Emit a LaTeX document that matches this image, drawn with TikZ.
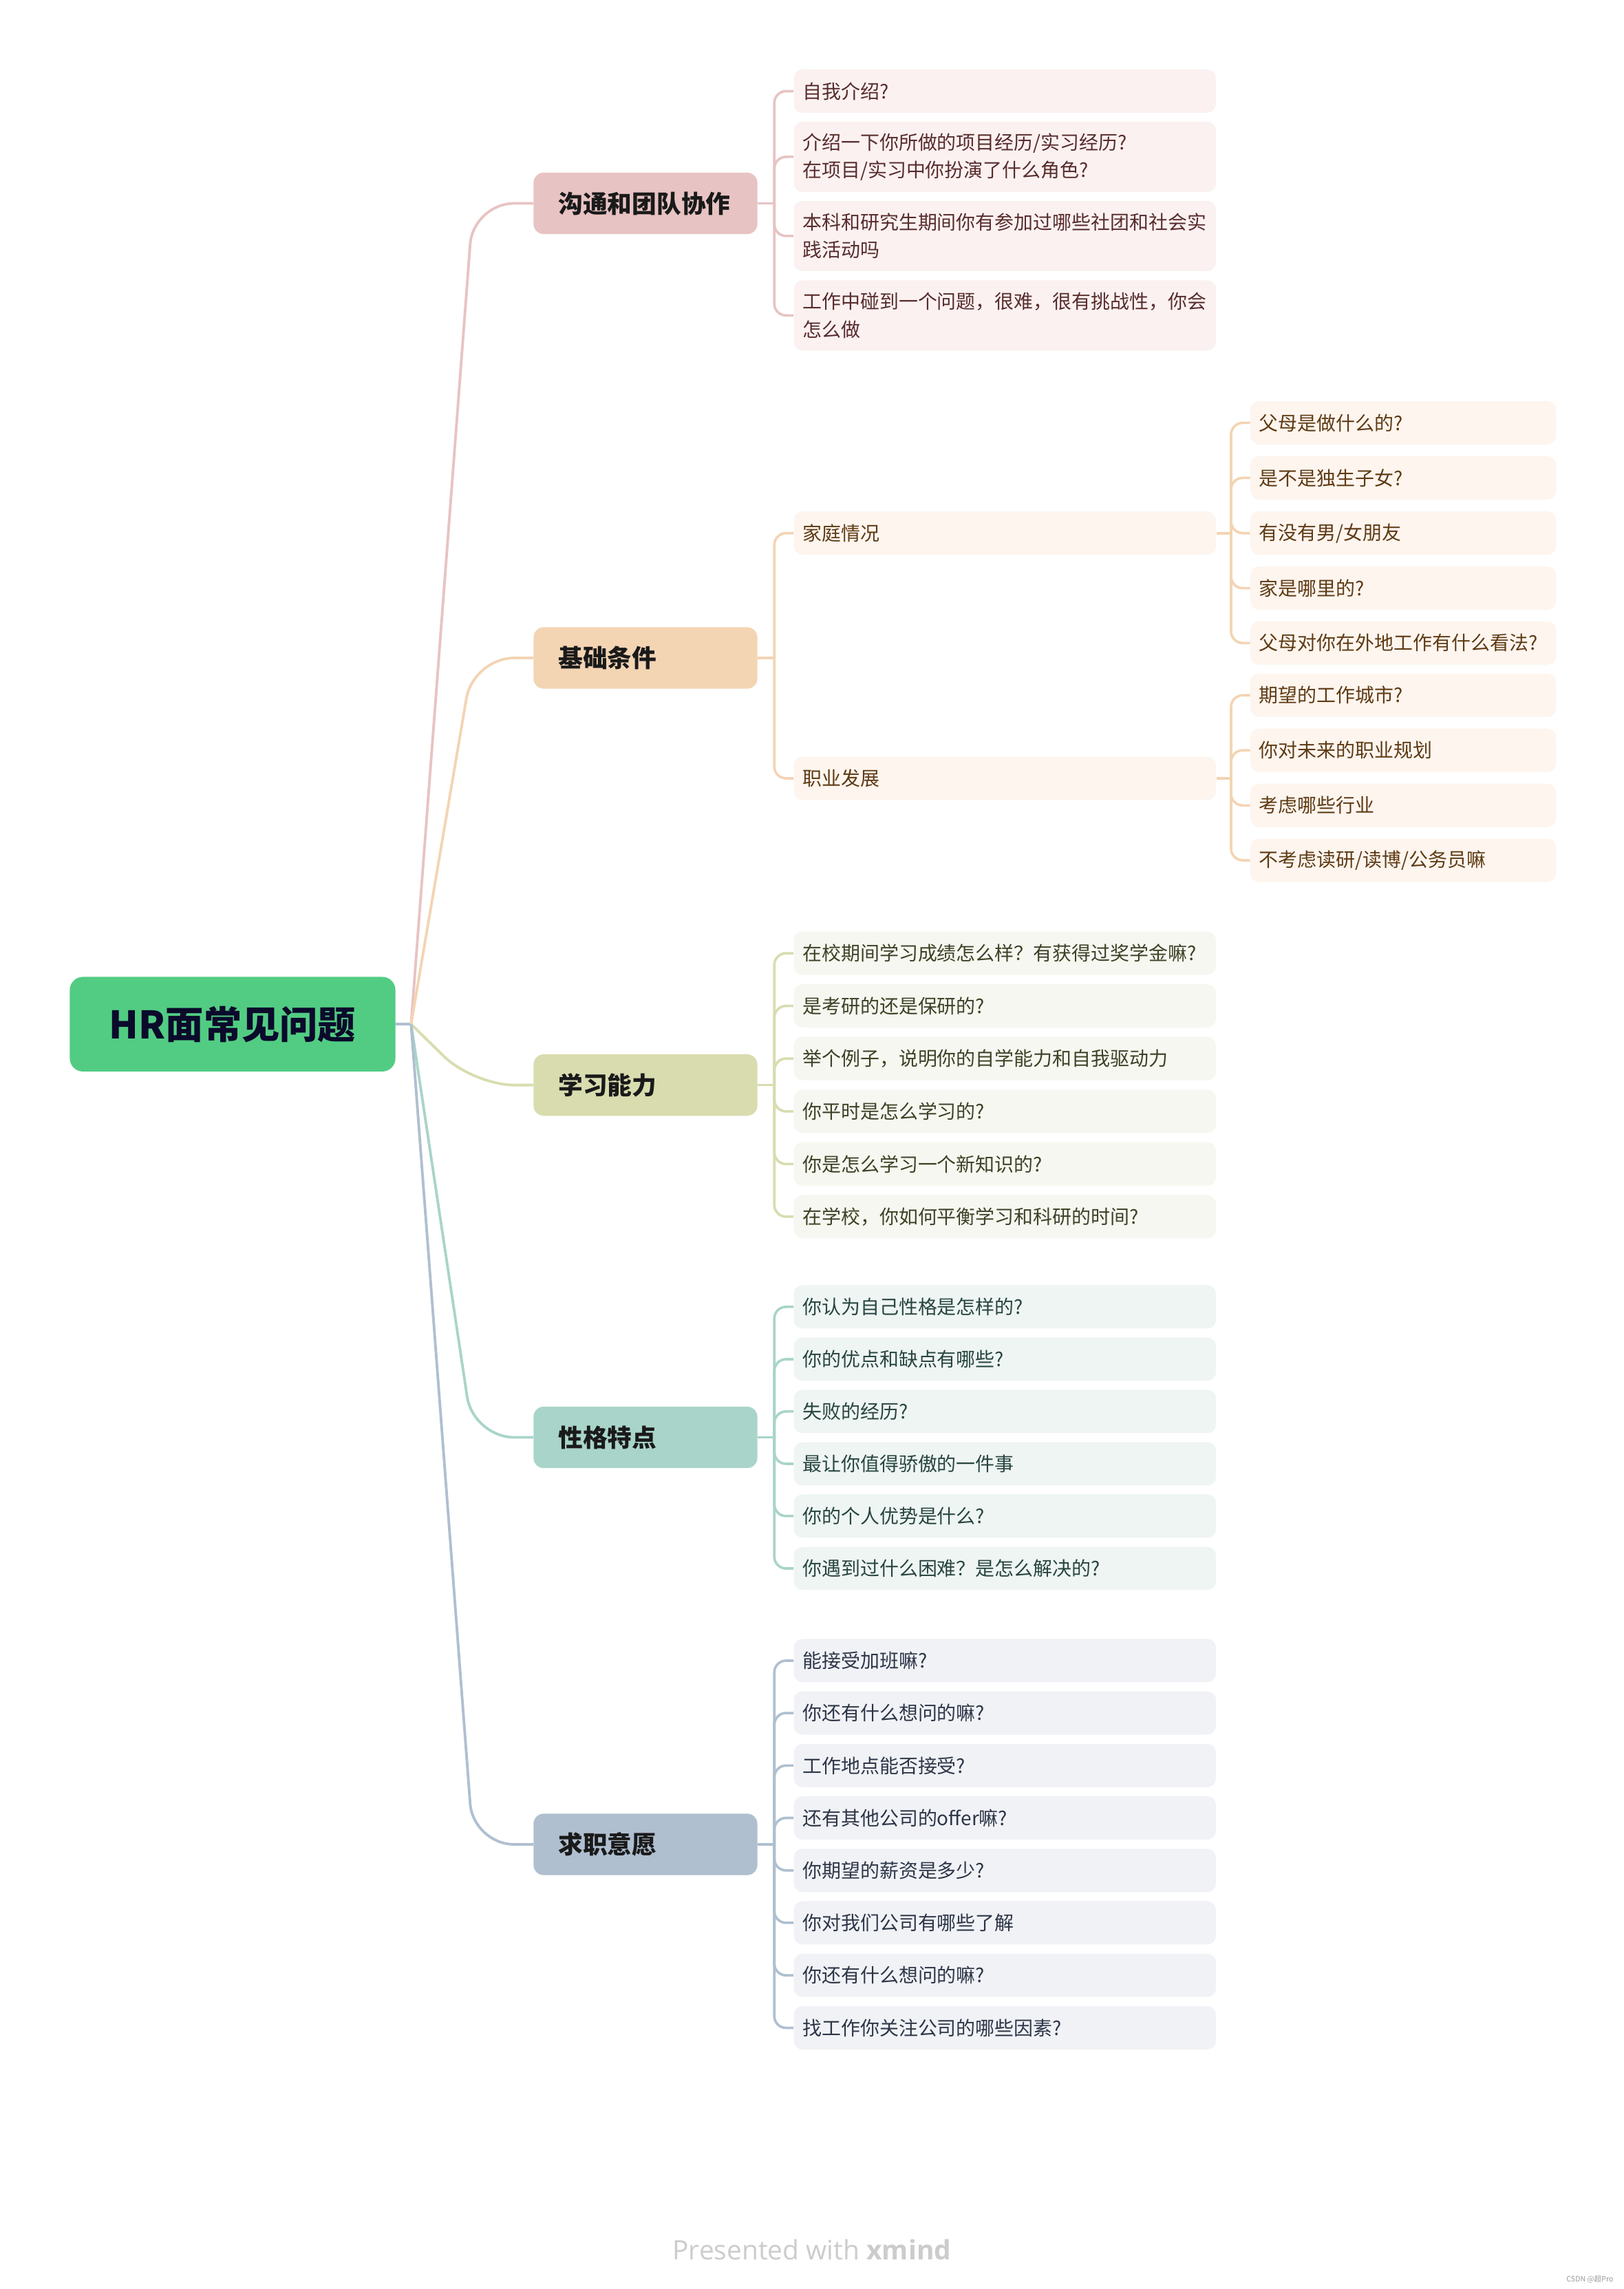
\documentclass[tikz,border=0pt]{standalone}
\usepackage{fontspec}
\setmainfont{Noto Sans CJK SC}
\newfontfamily\footfont{Open Sans}
\usetikzlibrary{calc}
\definecolor{rootg}{HTML}{52CC83}
\definecolor{roottxt}{HTML}{0B0A2B}
\definecolor{maintxt}{HTML}{1A1A1A}
\definecolor{mA}{HTML}{E8C3C3}
\definecolor{mB}{HTML}{F3D4B3}
\definecolor{mC}{HTML}{D9DCAF}
\definecolor{mD}{HTML}{A9D4CA}
\definecolor{mE}{HTML}{AFBFD0}
\definecolor{fA}{HTML}{FBF1F1}
\definecolor{fB}{HTML}{FDF5EE}
\definecolor{fC}{HTML}{F6F7F0}
\definecolor{fD}{HTML}{EEF5F3}
\definecolor{fE}{HTML}{F0F2F6}
\definecolor{tA}{HTML}{582C2C}
\definecolor{tB}{HTML}{5E3A14}
\definecolor{tC}{HTML}{3E4126}
\definecolor{tD}{HTML}{284540}
\definecolor{tE}{HTML}{2D3547}
\definecolor{footgray}{HTML}{CCCCCC}
\definecolor{markgray}{HTML}{9A9A9A}
\begin{document}
\begin{tikzpicture}[x=1pt,y=-1pt,
  rootbox/.style={fill=rootg, rounded corners=9pt, minimum width=222.6pt, minimum height=64.7pt, inner sep=0pt, font=\fontsize{26}{30}\selectfont\bfseries, text=roottxt},
  mainbox/.style={fill=#1, rounded corners=7pt, anchor=west, text width=119pt, inner xsep=17pt, inner ysep=0pt, minimum height=42pt, align=left, font=\fontsize{16.8}{20}\selectfont\bfseries, text=maintxt},
  leafbase/.style={rounded corners=6pt, anchor=west, inner xsep=6pt, inner ysep=0pt, minimum height=29.6pt, align=left, font=\fontsize{13.15}{19}\selectfont},
  leafA/.style={leafbase, fill=fA, text=tA, text width=276.6pt},
  leafB/.style={leafbase, fill=fB, text=tB, text width=276.6pt},
  subB/.style={leafbase, fill=fB, text=tB, text width=197pt},
  leafC/.style={leafbase, fill=fC, text=tC, text width=276.6pt},
  leafD/.style={leafbase, fill=fD, text=tD, text width=276.6pt},
  leafE/.style={leafbase, fill=fE, text=tE, text width=276.6pt},
  mline/.style={draw=#1, line width=1.8pt, rounded corners=28pt},
  lline/.style={draw=#1, line width=1.7pt, rounded corners=8pt},
]
\useasboundingbox[fill=white] (0,0) rectangle (1110,1564.5);

% root
\node[rootbox] (root) at (159,700) {HR面常见问题};
\coordinate (J) at (281,700);

% main nodes
\node[mainbox=mA] (mA) at (364.5,139) {沟通和团队协作};
\node[mainbox=mB] (mB) at (364.5,449.7) {基础条件};
\node[mainbox=mC] (mC) at (364.5,741.6) {学习能力};
\node[mainbox=mD] (mD) at (364.5,982.4) {性格特点};
\node[mainbox=mE] (mE) at (364.5,1260.6) {求职意愿};

% main connectors
\draw[mline=mE] (root.east) -- (J);
\draw[mline=mA] (J) -- (323.5,139) -- (mA.west);
\draw[mline=mB] (J) -- (323.5,449.7) -- (mB.west);
\draw[mline=mC] (J) -- (323.5,741.6) -- (mC.west);
\draw[mline=mD] (J) -- (323.5,982.4) -- (mD.west);
\draw[mline=mE] (J) -- (323.5,1260.6) -- (mE.west);

% branch A
\node[leafA] (a1) at (542.4,62.3) {自我介绍?};
\node[leafA, minimum height=48pt] (a2) at (542.4,107.2) {介绍一下你所做的项目经历/实习经历?\\在项目/实习中你扮演了什么角色?};
\node[leafA, minimum height=48pt] (a3) at (542.4,161.3) {本科和研究生期间你有参加过哪些社团和社会实\\践活动吗};
\node[leafA, minimum height=48pt] (a4) at (542.4,215.6) {工作中碰到一个问题，很难，很有挑战性，你会\\怎么做};
\draw[lline=mA] (mA.east) -- (529.3,139) coordinate (tA);
\foreach \n in {a1,a2,a3,a4} \draw[lline=mA] (tA) |- (\n.west);

% branch B
\node[leafB] (b1) at (542.4,364.4) {家庭情况};
\node[leafB] (b2) at (542.4,532) {职业发展};
\draw[lline=mB] (mB.east) -- (529.3,449.7) coordinate (tB);
\foreach \n in {b1,b2} \draw[lline=mB] (tB) |- (\n.west);

\node[subB] (c1) at (854.5,289) {父母是做什么的?};
\node[subB] (c2) at (854.5,326.6) {是不是独生子女?};
\node[subB] (c3) at (854.5,364.4) {有没有男/女朋友};
\node[subB] (c4) at (854.5,402) {家是哪里的?};
\node[subB] (c5) at (854.5,439.5) {父母对你在外地工作有什么看法?};
\node[subB] (c6) at (854.5,475.2) {期望的工作城市?};
\node[subB] (c7) at (854.5,512.8) {你对未来的职业规划};
\node[subB] (c8) at (854.5,550.5) {考虑哪些行业};
\node[subB] (c9) at (854.5,588) {不考虑读研/读博/公务员嘛};
\draw[lline=mB] (b1.east) -- (841.5,364.4) coordinate (tB1);
\foreach \n in {c1,c2,c3,c4,c5} \draw[lline=mB] (tB1) |- (\n.west);
\draw[lline=mB] (b2.east) -- (841.5,532) coordinate (tB2);
\foreach \n in {c6,c7,c8,c9} \draw[lline=mB] (tB2) |- (\n.west);

% branch C
\node[leafC] (d1) at (542.4,651.5) {在校期间学习成绩怎么样？有获得过奖学金嘛?};
\node[leafC] (d2) at (542.4,687.5) {是考研的还是保研的?};
\node[leafC] (d3) at (542.4,723.5) {举个例子，说明你的自学能力和自我驱动力};
\node[leafC] (d4) at (542.4,759.6) {你平时是怎么学习的?};
\node[leafC] (d5) at (542.4,795.6) {你是怎么学习一个新知识的?};
\node[leafC] (d6) at (542.4,831.6) {在学校，你如何平衡学习和科研的时间?};
\draw[lline=mC] (mC.east) -- (529.3,741.6) coordinate (tC);
\foreach \n in {d1,d2,d3,d4,d5,d6} \draw[lline=mC] (tC) |- (\n.west);

% branch D
\node[leafD] (e1) at (542.4,893.2) {你认为自己性格是怎样的?};
\node[leafD] (e2) at (542.4,929) {你的优点和缺点有哪些?};
\node[leafD] (e3) at (542.4,964.7) {失败的经历?};
\node[leafD] (e4) at (542.4,1000.5) {最让你值得骄傲的一件事};
\node[leafD] (e5) at (542.4,1036.2) {你的个人优势是什么?};
\node[leafD] (e6) at (542.4,1072) {你遇到过什么困难？是怎么解决的?};
\draw[lline=mD] (mD.east) -- (529.3,982.4) coordinate (tD);
\foreach \n in {e1,e2,e3,e4,e5,e6} \draw[lline=mD] (tD) |- (\n.west);

% branch E
\node[leafE] (f1) at (542.4,1135) {能接受加班嘛?};
\node[leafE] (f2) at (542.4,1170.8) {你还有什么想问的嘛?};
\node[leafE] (f3) at (542.4,1206.7) {工作地点能否接受?};
\node[leafE] (f4) at (542.4,1242.5) {还有其他公司的offer嘛?};
\node[leafE] (f5) at (542.4,1278.4) {你期望的薪资是多少?};
\node[leafE] (f6) at (542.4,1314.2) {你对我们公司有哪些了解};
\node[leafE] (f7) at (542.4,1350.1) {你还有什么想问的嘛?};
\node[leafE] (f8) at (542.4,1386) {找工作你关注公司的哪些因素?};
\draw[lline=mE] (mE.east) -- (529.3,1260.6) coordinate (tE);
\foreach \n in {f1,f2,f3,f4,f5,f6,f7,f8} \draw[lline=mE] (tE) |- (\n.west);

% footer
\node[anchor=base, inner sep=0pt, text=footgray, font=\footfont\fontsize{18.3}{22}\selectfont] (foot) at (555,1544.3) {Presented with \textbf{xmind}};
\node[anchor=east, inner sep=0pt, text=markgray, font=\fontsize{5}{6}\selectfont] (mark) at (1103,1557.7) {CSDN @超Pro};
\end{tikzpicture}
\end{document}
